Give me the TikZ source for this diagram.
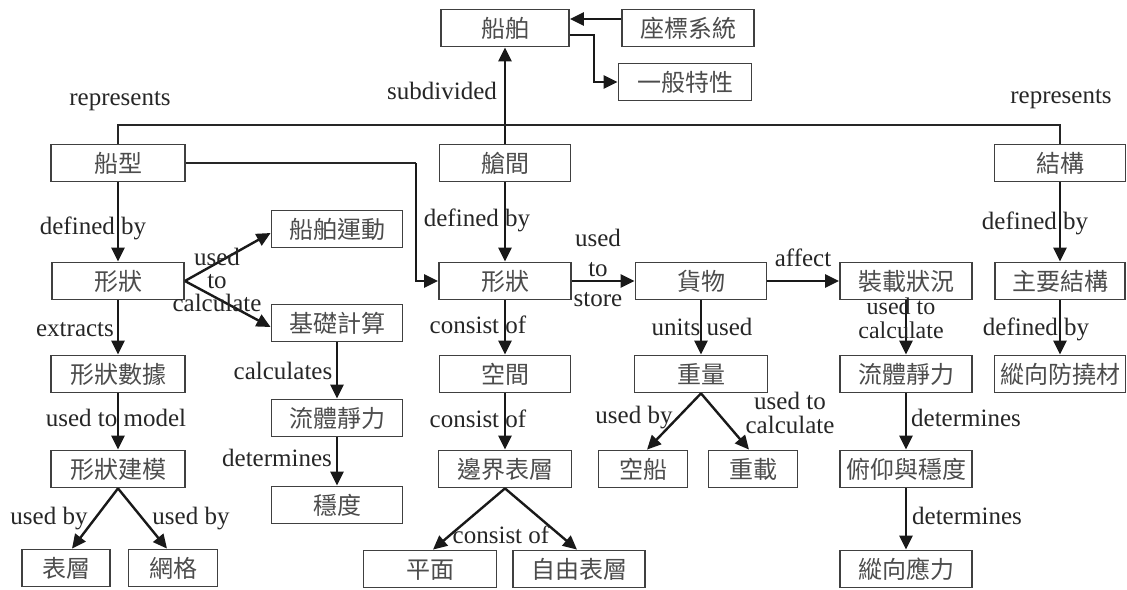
\documentclass[tikz,border=0pt]{standalone}
\usepackage{fontspec}
\setmainfont{Liberation Serif}
\newfontfamily\cjk{Noto Sans CJK TC}
\usetikzlibrary{arrows.meta}
\tikzset{
  box/.style={draw=black!75, line width=1.8pt, minimum height=37pt, inner sep=0pt,
    font=\cjk\fontsize{24}{24}\selectfont, text=black!70, text height=21pt, text depth=3pt},
  lbl/.style={font=\fontsize{25}{25}\selectfont, text=black!85, inner sep=0pt, text height=17pt, text depth=5pt},
  lblm/.style={font=\fontsize{25}{23}\selectfont, text=black!85, inner sep=0pt, align=center},
  arr/.style={draw=black!90, line width=2.4pt, -{Triangle[length=14pt,width=13pt]}},
  conn/.style={draw=black!85, line width=1.8pt},
}
\begin{document}
\begin{tikzpicture}[x=1pt,y=-1pt]
\useasboundingbox (0,0) rectangle (1127,589);
% boxes
\node[box, minimum width=128pt] (chuanbo) at (505,28) {船舶};
\node[box, minimum width=132pt] (zuobiao) at (688,28) {座標系統};
\node[box, minimum width=133pt] (yiban) at (685,82) {一般特性};
\node[box, minimum width=134pt] (chuanxing) at (118,163) {船型};
\node[box, minimum width=131pt] (cangjian) at (505,163) {艙間};
\node[box, minimum width=131pt] (jiegou) at (1060,163) {結構};
\node[box, minimum width=131pt] (yundong) at (337,229) {船舶運動};
\node[box, minimum width=132pt] (xz1) at (118,281) {形狀};
\node[box, minimum width=132pt] (xz2) at (505,281) {形狀};
\node[box, minimum width=131pt] (huowu) at (701,281) {貨物};
\node[box, minimum width=132pt] (zhuangzai) at (906,281) {裝載狀況};
\node[box, minimum width=130pt] (zhuyao) at (1060,281) {主要結構};
\node[box, minimum width=131pt] (jichu) at (337,323) {基礎計算};
\node[box, minimum width=134pt] (shuju) at (118,374) {形狀數據};
\node[box, minimum width=131pt] (kongjian) at (505,374) {空間};
\node[box, minimum width=133pt] (zhongliang) at (701,374) {重量};
\node[box, minimum width=132pt] (liuti2) at (906,374) {流體靜力};
\node[box, minimum width=131pt] (fangnao) at (1060,374) {縱向防撓材};
\node[box, minimum width=131pt] (liuti1) at (337,418) {流體靜力};
\node[box, minimum width=134pt] (jianmo) at (118,469) {形狀建模};
\node[box, minimum width=133pt] (bianjie) at (505,469) {邊界表層};
\node[box, minimum width=89pt] (kongchuan) at (643,469) {空船};
\node[box, minimum width=89pt] (zhongzai) at (753,469) {重載};
\node[box, minimum width=132pt] (fuyang) at (906,469) {俯仰與穩度};
\node[box, minimum width=131pt] (wendu) at (337,505) {穩度};
\node[box, minimum width=88pt] (biaoceng) at (66,568) {表層};
\node[box, minimum width=89pt] (wangge) at (173,568) {網格};
\node[box, minimum width=133pt] (pingmian) at (430,569) {平面};
\node[box, minimum width=132pt] (ziyou) at (579,569) {自由表層};
\node[box, minimum width=132pt] (yingli) at (906,569) {縱向應力};
% connectors
\draw[arr] ([yshift=9pt]zuobiao.west) -- ([yshift=9pt]chuanbo.east);
\draw[arr] ([yshift=-7pt]chuanbo.east) -- ++(24,0) |- (yiban.west);
\draw[arr] (cangjian.north) -- (chuanbo.south);
\draw[conn] (chuanxing.north) -- ++(0,-19) -| (jiegou.north);
\draw[conn] (chuanxing.east) -- ++(230,0) coordinate (bend);
\draw[arr] (bend) |- (xz2.west);
\draw[arr] (chuanxing.south) -- (xz1.north);
\draw[arr] (cangjian.south) -- (xz2.north);
\draw[arr] (jiegou.south) -- (zhuyao.north);
\draw[arr] (xz1.east) -- ([yshift=-4pt]yundong.west);
\draw[arr] (xz1.east) -- ([yshift=-4pt]jichu.west);
\draw[arr] (xz2.east) -- (huowu.west);
\draw[arr] (huowu.east) -- (zhuangzai.west);
\draw[arr] (zhuangzai.south) -- (liuti2.north);
\draw[arr] (zhuyao.south) -- (fangnao.north);
\draw[arr] (xz1.south) -- (shuju.north);
\draw[arr] (shuju.south) -- (jianmo.north);
\draw[arr] (jianmo.south) -- ([xshift=6pt]biaoceng.north);
\draw[arr] (jianmo.south) -- ([xshift=-6pt]wangge.north);
\draw[arr] (jichu.south) -- (liuti1.north);
\draw[arr] (liuti1.south) -- (wendu.north);
\draw[arr] (xz2.south) -- (kongjian.north);
\draw[arr] (kongjian.south) -- (bianjie.north);
\draw[arr] (bianjie.south) -- ([xshift=3pt]pingmian.north);
\draw[arr] (bianjie.south) -- ([xshift=-2pt]ziyou.north);
\draw[arr] (huowu.south) -- (zhongliang.north);
\draw[arr] (zhongliang.south) -- ([xshift=4pt]kongchuan.north);
\draw[arr] (zhongliang.south) -- ([xshift=-4pt]zhongzai.north);
\draw[arr] (liuti2.south) -- (fuyang.north);
\draw[arr] (fuyang.south) -- (yingli.north);
% labels
\node[lbl] (rep1) at (120,99) {represents};
\node[lbl] (rep2) at (1061,97) {represents};
\node[lbl] (subdiv) at (442,93) {subdivided};
\node[lbl] (def1) at (93,228) {defined by};
\node[lbl] (def2) at (477,220) {defined by};
\node[lbl] (def3) at (1035,223) {defined by};
\node[lblm] (ucalc1) at (217,280) {used\\to\\calculate};
\node[lblm, font=\fontsize{25}{30}\selectfont] (ustore) at (598,268) {used\\to\\store};
\node[lbl] (affect) at (803,260) {affect};
\node[lbl] (extracts) at (75,330) {extracts};
\node[lbl] (calcs) at (283,373) {calculates};
\node[lbl] (cons1) at (478,327) {consist of};
\node[lbl] (units) at (702,329) {units used};
\node[lblm, font=\fontsize{24}{24}\selectfont] (ucalc2) at (901,318) {used to\\calculate};
\node[lbl] (def4) at (1036,329) {defined by};
\node[lbl] (umodel) at (116,420) {used to model};
\node[lbl] (cons2) at (478,421) {consist of};
\node[lbl] (uby3) at (634,417) {used by};
\node[lblm, font=\fontsize{25}{24}\selectfont] (ucalc3) at (790,413) {used to\\calculate};
\node[lbl] (det1) at (966,420) {determines};
\node[lbl] (det0) at (277,460) {determines};
\node[lbl] (uby1) at (49,518) {used by};
\node[lbl] (uby2) at (191,518) {used by};
\node[lbl] (det2) at (967,518) {determines};
\node[lbl] (cons3) at (501,537) {consist of};
\end{tikzpicture}
\end{document}
